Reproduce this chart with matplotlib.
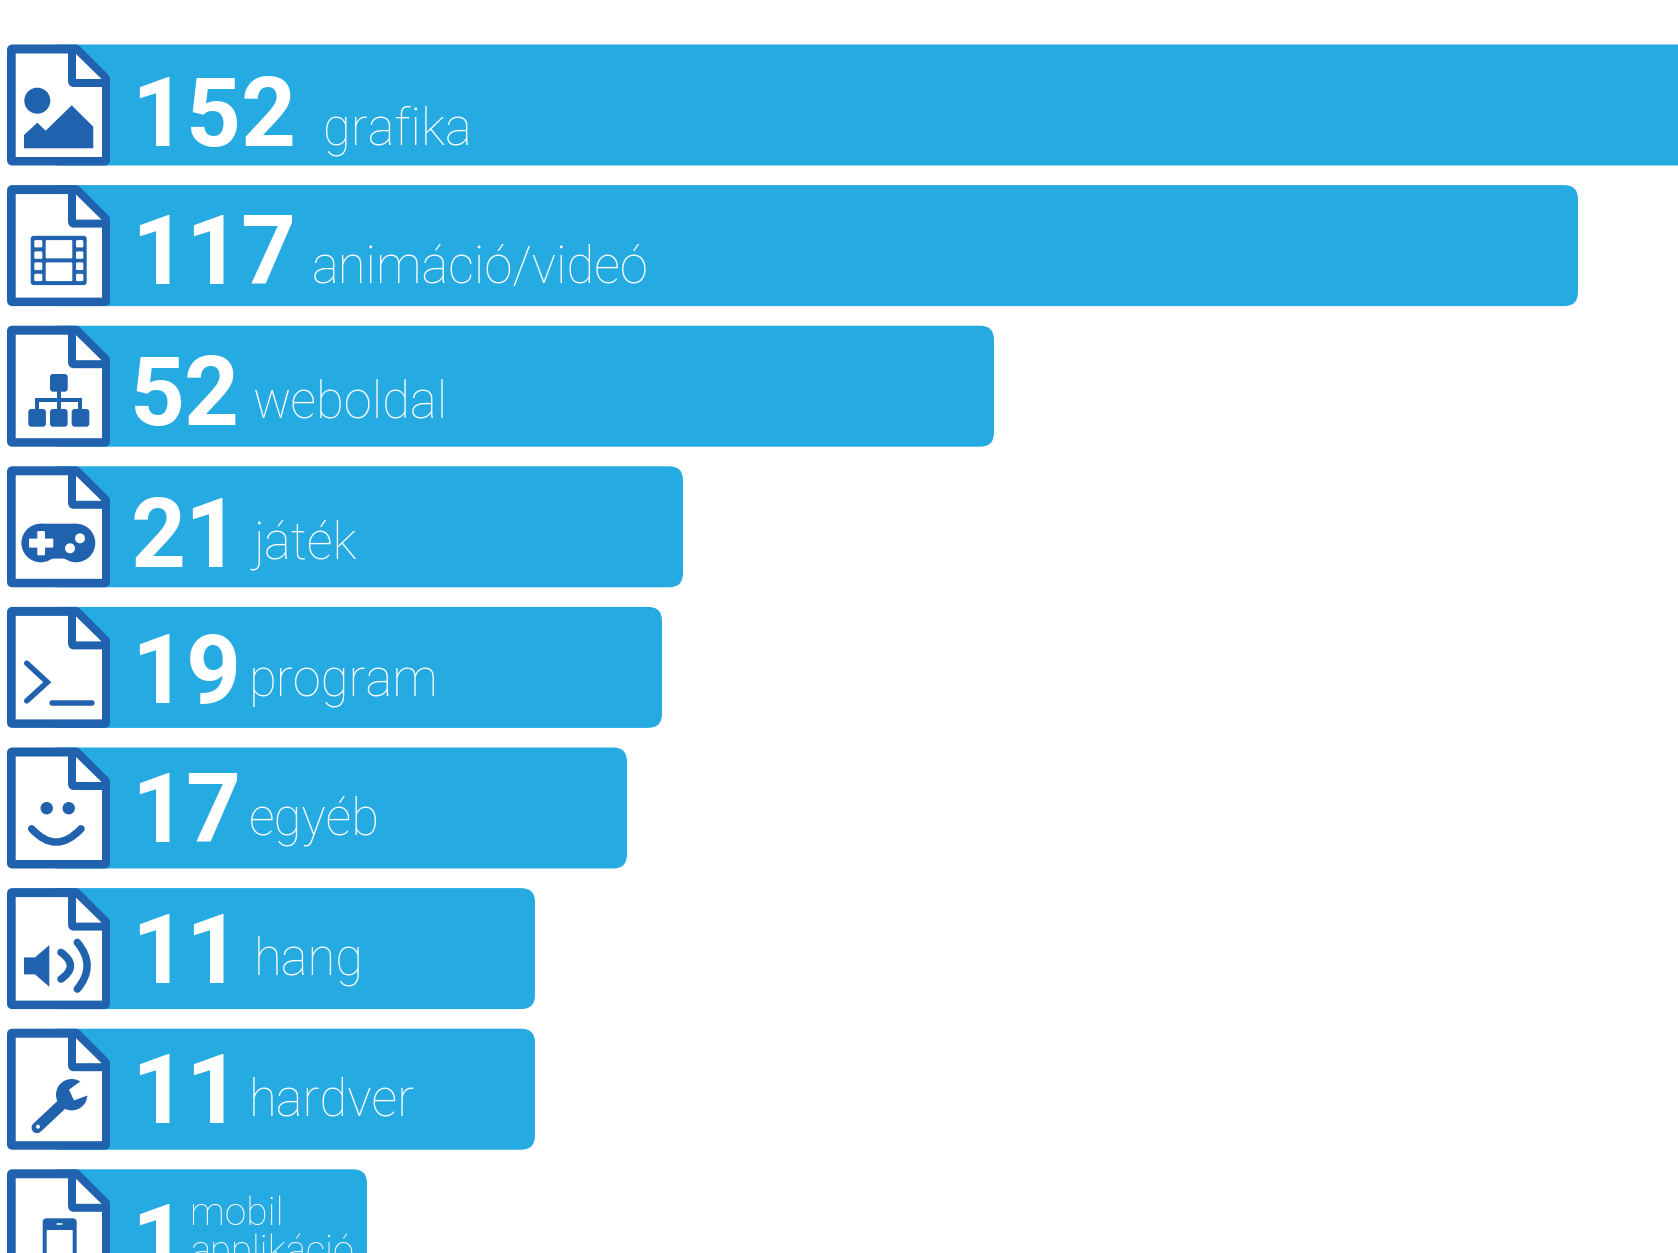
import matplotlib
matplotlib.use('Agg')
import matplotlib.pyplot as plt
from matplotlib.patches import FancyBboxPatch, Polygon, Circle, PathPatch
from matplotlib.path import Path

# Dados
szamok = ['152', '117', '52', '21', '19', '17', '11', '11', '1']
cimkek = ['grafika', 'animáció/videó', 'weboldal', 'játék', 'program', 'egyéb', 'hang', 'hardver', 'mobil\napplikáció']
# comprimento das barras (a barra 1 sai da imagem)
hosszak = [1800, 1578, 994, 683, 662, 627, 535, 535, 367]

# Layout
szam_x = [131, 131, 130, 131, 131, 131, 131, 131, 131]
szam_base = [146, 284, 425, 567, 703, 842, 983, 1123, 1273]
cimke_x = [323, 312, 253, 254, 249, 249, 254, 249, 190]
cimke_base = [144, 283, 418, 558, 697, 835, 975, 1115, 1225]

AZUL = '#26AAE2'
ESCURO = '#2062AD'
TOPO = 44.5
PASSO = 140.6
ALT = 121

plt.rcParams['font.family'] = ['Roboto', 'DejaVu Sans']
fig = plt.figure(figsize=(16.78, 12.53), dpi=100)
ax = fig.add_axes([0, 0, 1, 1])
ax.set_xlim(0, 1678)
ax.set_ylim(1253, 0)
ax.axis('off')


def ret(x0, y0, x1, y1, top, cor=ESCURO, raio=2.0, z=4):
    ax.add_patch(FancyBboxPatch((7 + x0, top + y0), x1 - x0, y1 - y0,
                                boxstyle=f'round,pad=0,rounding_size={raio}',
                                fc=cor, ec='none', zorder=z))


def circ(x, y, r, top, cor=ESCURO, z=4):
    ax.add_patch(Circle((7 + x, top + y), r, fc=cor, ec='none', zorder=z))


def poli(pts, top, cor=ESCURO, z=4):
    ax.add_patch(Polygon([(7 + x, top + y) for x, y in pts], closed=True, fc=cor, ec='none', zorder=z))


def linha(pts, top, lw, cor=ESCURO, z=4):
    xs = [7 + p[0] for p in pts]
    ys = [top + p[1] for p in pts]
    ax.plot(xs, ys, color=cor, lw=lw * 0.72, solid_capstyle='round', solid_joinstyle='miter', zorder=z)


def curva(p0, c, p1, top, lw, z=4):
    path = Path([(7 + p0[0], top + p0[1]), (7 + c[0], top + c[1]), (7 + p1[0], top + p1[1])],
                [Path.MOVETO, Path.CURVE3, Path.CURVE3])
    ax.add_patch(PathPatch(path, fc='none', ec=ESCURO, lw=lw * 0.72, capstyle='round', zorder=z))


def arquivo(top):
    # contorno do documento com o canto dobrado
    pts = [(5, 5), (69, 5), (98, 34), (98, 116), (5, 116)]
    ax.add_patch(Polygon([(7 + x, top + y) for x, y in pts], closed=True, fc=ESCURO, ec=ESCURO,
                         lw=10 * 0.72, joinstyle='round', zorder=3))
    # corpo branco, com a dobra arredondada
    corpo = Path([(15.7, 9), (61, 9), (61, 36), (61, 42.5), (67, 42.5), (95, 42.5), (95, 112.5), (8.7, 112.5), (8.7, 9), (15.7, 9)],
                 [Path.MOVETO, Path.LINETO, Path.LINETO, Path.CURVE3, Path.CURVE3, Path.LINETO, Path.LINETO, Path.LINETO, Path.LINETO, Path.CLOSEPOLY])
    corpo = Path(corpo.vertices + [7, top], corpo.codes)
    ax.add_patch(PathPatch(corpo, fc='white', ec='none', zorder=4))
    poli([(69, 9.5), (94.5, 34.5), (69, 34.5)], top, 'white')


def ic_grafika(t):
    circ(30.3, 56.2, 13, t)
    poli([(17, 103.8), (17, 90.5), (30.3, 78.2), (38.7, 86.2), (64.7, 60.8), (86.3, 82.2), (86.3, 103.8)], t)


def ic_video(t):
    ret(23.7, 50.7, 79.7, 100, t, raio=3)
    for y0, y1 in [(55, 62.3), (66.3, 73.7), (77.3, 85), (88.7, 96)]:
        ret(27.3, y0, 35.3, y1, t, 'white', 1.2, 5)
        ret(69, y0, 76.3, y1, t, 'white', 1.2, 5)
    ret(38.7, 55, 65.3, 73.3, t, 'white', 1, 5)
    ret(38.7, 77.3, 65.3, 96, t, 'white', 1, 5)


def ic_web(t):
    ret(43, 48.3, 60.7, 66, t, raio=3)
    for x0 in [21.3, 43, 64.7]:
        ret(x0, 83.3, x0 + 17.6, 101, t, raio=3)
    linha([(52, 66), (52, 83)], t, 4)
    linha([(30, 84), (30, 74), (73.3, 74), (73.3, 84)], t, 4)


def ic_jatek(t):
    circ(33.7, 76.7, 19.3, t)
    circ(69, 76.7, 19.3, t)
    ret(33.7, 57.4, 69, 92.3, t, raio=0.5)
    ret(22, 72.3, 46.3, 81.3, t, 'white', 1, 5)
    ret(30.3, 64.7, 38, 89, t, 'white', 1, 5)
    circ(73, 72, 5, t, 'white', 5)
    circ(63, 82, 5, t, 'white', 5)


def ic_program(t):
    linha([(19.7, 56.3), (40.3, 75.3), (19.7, 94)], t, 5.5)
    linha([(44.7, 96), (84.7, 96)], t, 5.5)


def ic_egyeb(t):
    circ(39.7, 60.7, 6.2, t)
    circ(61.7, 60.7, 6.2, t)
    curva((24.7, 81.3), (49, 108), (74, 81.3), t, 7.5)


def ic_hang(t):
    poli([(17, 69.3), (28, 69.3), (42.3, 57), (42.3, 98.7), (28, 86.3), (17, 86.3)], t)
    curva((54, 64.3), (73, 77.7), (54, 91), t, 7.5)
    curva((70.3, 54.3), (90, 77.7), (70.3, 101), t, 7.5)


def ic_hardver(t):
    linha([(30, 99), (58, 72.7)], t, 11)
    circ(64.7, 66, 15.7, t)
    poli([(62, 61), (73, 53), (88, 50), (88, 66), (80, 67), (67, 71.7)], t, 'white', 5)
    circ(31, 98, 2, t, 'white', 5)


def ic_mobil(t):
    ret(35.7, 49, 69.7, 110, t, raio=4)
    ret(39.7, 60.7, 65.7, 106, t, 'white', 0.5, 5)
    linha([(50, 55), (55, 55)], t, 1.5, 'white', 5)


icones = [ic_grafika, ic_video, ic_web, ic_jatek, ic_program, ic_egyeb, ic_hang, ic_hardver, ic_mobil]

for i in range(len(szamok)):
    top = TOPO + i * PASSO
    ax.add_patch(FancyBboxPatch((45, top), hosszak[i] - 45, ALT,
                                boxstyle='round,pad=0,rounding_size=14', fc=AZUL, ec='none', zorder=2))
    arquivo(top)
    icones[i](top)
    ax.text(szam_x[i], szam_base[i], szamok[i], color='white', fontsize=69, fontweight='bold',
            ha='left', va='baseline', zorder=6)
    if i == 8:
        ax.text(cimke_x[i], cimke_base[i], 'mobil', color='white', fontsize=28, fontweight='light',
                ha='left', va='baseline', zorder=6)
        ax.text(cimke_x[i], cimke_base[i] + 38, 'applikáció', color='white', fontsize=27.5, fontweight='light',
                ha='left', va='baseline', zorder=6)
    else:
        ax.text(cimke_x[i], cimke_base[i], cimkek[i], color='white', fontsize=36.5, fontweight='light',
                ha='left', va='baseline', zorder=6)

fig.savefig('out.png', dpi=100)
